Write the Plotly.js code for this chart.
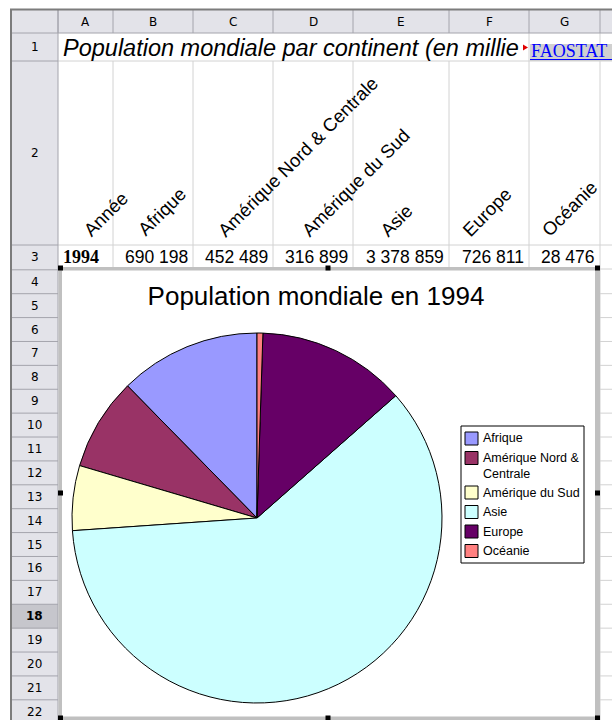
<!DOCTYPE html>
<html><head><meta charset="utf-8">
<script src="https://cdn.plot.ly/plotly-3.0.1.min.js"></script>
<style>html,body{margin:0;padding:0;background:#fff;}#chart{width:612px;height:720px;}</style>
</head><body><div id="chart"></div>
<script>
// ---- data ----
const sheetTitle = "Population mondiale par continent (en millie";
const sourceLink = "FAOSTAT";
const chartTitle = "Population mondiale en 1994";
const yearHeader = "Année";
const year = "1994";
const continents = ["Afrique", "Amérique Nord & Centrale", "Amérique du Sud", "Asie", "Europe", "Océanie"];
const population = [690198, 452489, 316899, 3378859, 726811, 28476];
const sliceColors = ["#9999FF", "#993366", "#FFFFCC", "#CCFFFF", "#660066", "#FF8080"];
const columnLetters = ["A", "B", "C", "D", "E", "F", "G"];
const rowNumbers = [1, 2, 3, 4, 5, 6, 7, 8, 9, 10, 11, 12, 13, 14, 15, 16, 17, 18, 19, 20, 21, 22];

// ---- geometry helpers (pixel -> paper) ----
const W = 612, H = 720;
const px = x => x / W;
const py = y => 1 - y / H;
const SANS = "Liberation Sans, Arial, sans-serif";
const SERIF = "Liberation Serif, Times New Roman, serif";
const UI = "DejaVu Sans, Verdana, sans-serif";

const colEdges = [58, 113, 193, 273, 353, 449, 529, 600];
function rowTop(k) {
  if (k === 1) return 33;
  if (k === 2) return 61;
  if (k === 3) return 245;
  return 269.8 + 23.89 * (k - 4);
}
function rowCenter(k) { return (rowTop(k) + rowTop(k + 1)) / 2; }

const shapes = [];
const annotations = [];
function rect(x0, y0, x1, y1, fill, lineColor, lw, layer) {
  shapes.push({type: 'rect', xref: 'paper', yref: 'paper', x0: px(x0), x1: px(x1), y0: py(y1), y1: py(y0),
    fillcolor: fill, line: {color: lineColor || 'rgba(0,0,0,0)', width: lw || 0}, layer: layer || 'below'});
}
function seg(x0, y0, x1, y1, color, w) {
  shapes.push({type: 'line', xref: 'paper', yref: 'paper', x0: px(x0), y0: py(y0), x1: px(x1), y1: py(y1),
    line: {color: color, width: w}, layer: 'below'});
}
function text(t, x, y, opts) {
  annotations.push(Object.assign({text: t, x: px(x), y: py(y), xref: 'paper', yref: 'paper', showarrow: false,
    xanchor: 'center', yanchor: 'middle', font: {family: SANS, size: 12, color: '#000'}}, opts || {}));
}

// ---- spreadsheet frame ----
const headFill = '#e3e3e9', headLine = '#a4a4ac', gridLine = '#d2d2d2';
rect(11, 9, W, 33, headFill);
rect(11, 33, 58, H, headFill);
rect(11, rowTop(18), 58, rowTop(19), '#c6c6cc');

// cell grid
seg(58, 61, W, 61, gridLine, 1);
seg(58, 245, W, 245, gridLine, 1);
seg(58, 269, W, 269, gridLine, 1);
colEdges.slice(1).forEach(x => {
  const top = (x < 529) ? 61 : 33;
  seg(x, top, x, (x === 600 ? H : 269), gridLine, 1);
});
for (let k = 4; k <= 22; k++) seg(598, rowTop(k + 1), W, rowTop(k + 1), gridLine, 1);

// header separators
colEdges.forEach(x => seg(x, 9, x, 33, headLine, 1));
seg(11, 33, W, 33, headLine, 1);
seg(58, 9, 58, H, headLine, 1);
for (let k = 1; k <= 22; k++) seg(11, rowTop(k + 1), 58, rowTop(k + 1), headLine, 1);
seg(10, 9.5, W, 9.5, '#7c7c7c', 2);
seg(11, 9, 11, H, '#7c7c7c', 2);

// link highlight + comment marker
rect(530, 44, W, 61, '#d0d0d0');
seg(530, 59.5, W, 59.5, '#0000ff', 1);
shapes.push({type: 'path', xref: 'paper', yref: 'paper', layer: 'below', fillcolor: '#e00000', line: {width: 0},
  path: `M ${px(523)} ${py(44.5)} L ${px(528)} ${py(47.5)} L ${px(523)} ${py(50.5)} Z`});

// chart object area
rect(60, 268, 597.5, 718, '#ffffff');
rect(58.5, 267, 62, H, '#c0c0c0');
rect(58.5, 267, 600, 270.5, '#c0c0c0');
rect(595, 267, 600, H, '#c0c0c0');
rect(58.5, 716.5, 600, H, '#c0c0c0');
[[60.5, 268], [328, 268], [597.5, 268], [60.5, 493], [597.5, 493], [60.5, 718], [328, 718], [597.5, 718]]
  .forEach(([x, y]) => rect(x - 2.5, y - 2.5, x + 2.5, y + 2.5, '#000000'));

// ---- texts of the sheet ----
columnLetters.forEach((c, i) => text(c, (colEdges[i] + colEdges[i + 1]) / 2, 21.5, {font: {family: UI, size: 12, color: '#000'}}));
rowNumbers.forEach(n => text(n === 18 ? '<b>' + n + '</b>' : String(n), 34.5, rowCenter(n),
  {font: {family: UI, size: 12, color: '#000'}}));

text('<i>' + sheetTitle + '</i>', 61, 48.5, {xanchor: 'left', font: {family: SANS, size: 23.5, color: '#000'}});
text(sourceLink, 529, 51, {xanchor: 'left', font: {family: SERIF, size: 18, color: '#0000ff'}});

// rotated column headers (row 2)
const headerStarts = [77, 131, 211, 295, 373, 456, 535];
[yearHeader].concat(continents).forEach((t, i) =>
  text(t, headerStarts[i], 243, {xanchor: 'left', yanchor: 'bottom', textangle: -45,
    font: {family: SANS, size: 18.5, color: '#000'}}));

// row 3 values
const fmt = n => String(n).replace(/\B(?=(\d{3})+(?!\d))/g, ' ');
text('<b>' + year + '</b>', 61, 257.5, {xanchor: 'left', font: {family: SERIF, size: 18, color: '#000'}});
population.forEach((v, i) => text(fmt(v), colEdges[i + 2] - 3, 257.5, {xanchor: 'right', font: {family: SANS, size: 17.5, color: '#000'}}));

// ---- manual chart legend ----
rect(461, 426, 584, 563, '#ffffff', '#000000', 1);
let ly = 438.5;
continents.forEach((c, i) => {
  const label = c.replace('& ', '&<br>');
  const lines = label.split('<br>').length;
  rect(465, ly - 6.5, 478, ly + 6.5, sliceColors[i], '#000000', 1);
  if (lines === 1) text(label, 481, ly, {xanchor: 'left', font: {family: SANS, size: 12.5, color: '#000'}});
  else text(label, 481, ly - 9, {xanchor: 'left', yanchor: 'top', align: 'left', font: {family: SANS, size: 12.5, color: '#000'}});
  ly += 19.5 + 15 * (lines - 1);
});

// ---- pie ----
const total = population.reduce((a, b) => a + b, 0);
const cx = 257, cy = 518, r = 185;
const pie = {
  type: 'pie', labels: continents, values: population,
  marker: {colors: sliceColors, line: {color: '#000000', width: 1}},
  sort: false, direction: 'counterclockwise',
  rotation: -360 * population[0] / total,   // first slice ends at 12 o'clock, going counterclockwise
  textinfo: 'none', showlegend: false, hoverinfo: 'label+value+percent',
  domain: {x: [px(cx - r), px(cx + r)], y: [py(cy + r), py(cy - r)]}
};

const layout = {
  width: W, height: H, margin: {l: 0, r: 0, t: 0, b: 0}, autosize: false,
  paper_bgcolor: '#ffffff', showlegend: false,
  title: {text: chartTitle, x: px(316), xanchor: 'center', y: py(296), yanchor: 'middle',
    font: {family: SANS, size: 26, color: '#000'}},
  shapes: shapes, annotations: annotations
};
Plotly.newPlot('chart', [pie], layout, {displayModeBar: false, staticPlot: true});
</script></body></html>
